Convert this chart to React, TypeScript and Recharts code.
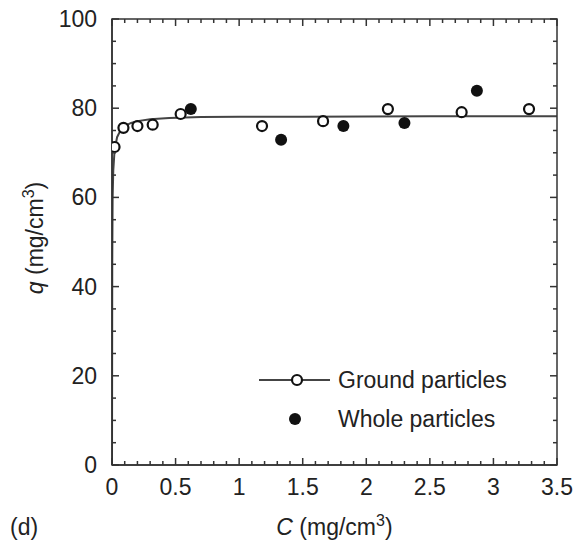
import React from "react";
import { ComposedChart, Line, Scatter, XAxis, YAxis, Legend } from "recharts";

const groundC = [0.02, 0.09, 0.2, 0.32, 0.54, 1.18, 1.66, 2.17, 2.75, 3.28];
const groundQ = [71.3, 75.6, 76.0, 76.3, 78.7, 76.0, 77.1, 79.8, 79.1, 79.8];

const wholeC = [0.62, 1.33, 1.82, 2.3, 2.87];
const wholeQ = [79.8, 72.9, 76.0, 76.7, 83.9];

// fitted isotherm curve
const fitC = [0, 0.002, 0.005, 0.01, 0.02, 0.04, 0.07, 0.1, 0.15, 0.2, 0.3, 0.45, 0.7, 1.0, 1.5, 2.5, 3.5];
const fitQ = [0, 45, 60, 66, 70.5, 73.5, 75.2, 76.0, 76.7, 77.1, 77.5, 77.8, 78.0, 78.1, 78.1, 78.2, 78.2];

const xTickLabels = [0, 0.5, 1, 1.5, 2, 2.5, 3, 3.5];
const yTickLabels = [0, 20, 40, 60, 80, 100];

const xTicks = Array.from({ length: 36 }, (_, i) => i / 10);
const yTicks = Array.from({ length: 21 }, (_, i) => i * 5);

const groundData = groundC.map((c, i) => ({ C: c, q: groundQ[i] }));
const wholeData = wholeC.map((c, i) => ({ C: c, q: wholeQ[i] }));
const fitData = fitC.map((c, i) => ({ C: c, q: fitQ[i] }));

const FONT = '"Liberation Sans", Arial, Helvetica, sans-serif';
const INK = "#222";
const AXIS = "#333";

// plot frame edges (chart margin + axis sizes)
const LEFT = 112;
const TOP = 19;
const RIGHT = 557;
const BOTTOM = 465;

const isXMajor = (v: number) => xTickLabels.some((t) => Math.abs(t - v) < 1e-6);
const isYMajor = (v: number) => yTickLabels.some((t) => Math.abs(t - v) < 1e-6);

// bottom axis: inward ticks on both bottom and top edges + labels
const BottomTick = (props: any) => {
  const { x, payload } = props;
  const major = isXMajor(payload.value);
  const len = major ? 7 : 4;
  return (
    <g>
      <line x1={x} x2={x} y1={BOTTOM} y2={BOTTOM - len} stroke={AXIS} strokeWidth={1.5} />
      <line x1={x} x2={x} y1={TOP} y2={TOP + len} stroke={AXIS} strokeWidth={1.5} />
      {major && (
        <text x={x} y={BOTTOM + 30} textAnchor="middle" fontSize={23} fill={INK} fontFamily={FONT}>
          {payload.value}
        </text>
      )}
    </g>
  );
};

// left axis: inward ticks on both left and right edges + labels
const LeftTick = (props: any) => {
  const { y, payload } = props;
  const major = isYMajor(payload.value);
  const len = major ? 7 : 4;
  return (
    <g>
      <line x1={LEFT} x2={LEFT + len} y1={y} y2={y} stroke={AXIS} strokeWidth={1.5} />
      <line x1={RIGHT} x2={RIGHT - len} y1={y} y2={y} stroke={AXIS} strokeWidth={1.5} />
      {major && (
        <text x={LEFT - 15} y={y} dy="0.35em" textAnchor="end" fontSize={23} fill={INK} fontFamily={FONT}>
          {payload.value}
        </text>
      )}
    </g>
  );
};

const OpenDot = (props: any) => (
  <circle cx={props.cx} cy={props.cy} r={5} fill="#fff" stroke="#111" strokeWidth={2.2} />
);

const FilledDot = (props: any) => <circle cx={props.cx} cy={props.cy} r={6} fill="#111" />;

const XTitle = (props: any) => {
  const { viewBox } = props;
  const cx = viewBox.x + viewBox.width / 2;
  const cy = BOTTOM + 62;
  return (
    <g fontFamily={FONT} fill={INK}>
      <rect x={LEFT} y={TOP} width={RIGHT - LEFT} height={BOTTOM - TOP} fill="none" stroke={AXIS} strokeWidth={1.5} />
      <text x={10} y={cy} dy="0.35em" fontSize={23}>
        (d)
      </text>
      <text x={cx} y={cy} dy="0.35em" textAnchor="middle" fontSize={23}>
        <tspan fontStyle="italic">C</tspan> (mg/cm
        <tspan dy={-9} fontSize={16}>3</tspan>
        <tspan dy={9}>)</tspan>
      </text>
    </g>
  );
};

const YTitle = (props: any) => {
  const { viewBox } = props;
  const cx = 35;
  const cy = viewBox.y + viewBox.height / 2 - 4;
  return (
    <text
      x={cx}
      y={cy}
      dy="0.35em"
      textAnchor="middle"
      fontSize={23}
      fill={INK}
      fontFamily={FONT}
      transform={`rotate(-90, ${cx}, ${cy})`}
    >
      <tspan fontStyle="italic">q</tspan> (mg/cm
      <tspan dy={-9} fontSize={16}>3</tspan>
      <tspan dy={9}>)</tspan>
    </text>
  );
};

const LegendBox = () => (
  <svg width={310} height={80} style={{ overflow: "visible" }}>
    <g fontFamily={FONT} fontSize={23} fill={INK}>
      <line x1={9} x2={80} y1={20} y2={20} stroke="#444" strokeWidth={2} />
      <circle cx={47} cy={20} r={5} fill="#fff" stroke="#111" strokeWidth={2.2} />
      <text x={88} y={20} dy="0.35em">
        Ground particles
      </text>
      <circle cx={45} cy={59} r={6} fill="#111" />
      <text x={88} y={59} dy="0.35em">
        Whole particles
      </text>
    </g>
  </svg>
);

export default function App() {
  return (
    <div style={{ position: "absolute", left: 0, top: 0, width: 577, height: 548, background: "#fff" }}>
      <ComposedChart width={577} height={548} margin={{ top: TOP, right: 577 - RIGHT, left: 0, bottom: 0 }}>
        <XAxis
          type="number"
          dataKey="C"
          domain={[0, 3.5]}
          ticks={xTicks}
          interval={0}
          allowDataOverflow
          height={548 - BOTTOM}
          tickLine={false}
          tickSize={0}
          tickMargin={0}
          axisLine={{ stroke: AXIS, strokeWidth: 1.5 }}
          tick={<BottomTick />}
          label={<XTitle />}
        />
        <YAxis
          type="number"
          dataKey="q"
          domain={[0, 100]}
          ticks={yTicks}
          interval={0}
          allowDataOverflow
          width={LEFT}
          tickLine={false}
          tickSize={0}
          tickMargin={0}
          axisLine={{ stroke: AXIS, strokeWidth: 1.5 }}
          tick={<LeftTick />}
          label={<YTitle />}
        />
        <Legend
          layout="horizontal"
          verticalAlign="middle"
          align="center"
          content={<LegendBox />}
          wrapperStyle={{ left: 250, top: 360, width: 310, height: 80 }}
        />
        <Line
          data={fitData}
          dataKey="q"
          type="linear"
          stroke="#444"
          strokeWidth={2}
          dot={false}
          activeDot={false}
          isAnimationActive={false}
        />
        <Scatter data={groundData} dataKey="q" shape={<OpenDot />} isAnimationActive={false} />
        <Scatter data={wholeData} dataKey="q" shape={<FilledDot />} isAnimationActive={false} />
      </ComposedChart>
    </div>
  );
}
